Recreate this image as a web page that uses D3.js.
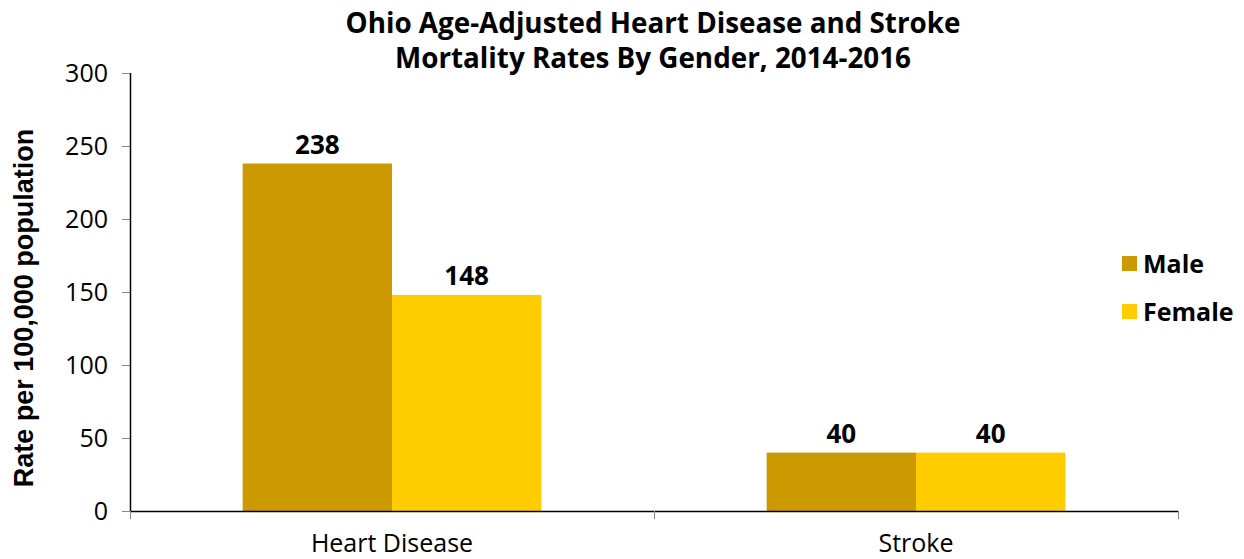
<!DOCTYPE html>
<html><head><meta charset="utf-8">
<script src="https://cdn.jsdelivr.net/npm/d3@7"></script>
<style>body{margin:0;background:#fff;}svg{display:block;font-family:"Open Sans","Noto Sans",sans-serif;}</style>
</head><body><svg id="c" width="1244" height="559"></svg>
<script>
const categories = ["Heart Disease", "Stroke"];
const seriesNames = ["Male", "Female"];
const maleValues = [238, 40];
const femaleValues = [148, 40];
const yTicks = [0, 50, 100, 150, 200, 250, 300];
const titleLines = ["Ohio Age-Adjusted Heart Disease and Stroke", "Mortality Rates By Gender, 2014-2016"];
const yLabel = "Rate per 100,000 population";
const colors = ["#CC9900", "#FFCC00"];

(function () {
const svg = d3.select("#c");
const pLeft = 130, pRight = 1178, pTop = 73, pBottom = 511;
const x = d3.scaleBand().domain(categories).range([pLeft, pRight]).paddingInner(0.43).paddingOuter(0.215);
const xs = d3.scaleBand().domain(seriesNames).range([0, x.bandwidth()]);
const y = d3.scaleLinear().domain([0, 300]).range([pBottom, pTop]);
const data = [maleValues, femaleValues];

// bars
seriesNames.forEach((s, si) => {
  svg.append("g").selectAll("rect").data(categories).join("rect")
    .attr("x", d => x(d) + xs(s))
    .attr("y", (d, i) => y(data[si][i]))
    .attr("width", xs.bandwidth())
    .attr("height", (d, i) => y(0) - y(data[si][i]))
    .attr("fill", colors[si]);
  svg.append("g").selectAll("text").data(categories).join("text")
    .attr("x", d => x(d) + xs(s) + xs.bandwidth() / 2)
    .attr("y", (d, i) => y(data[si][i]) - 10)
    .attr("text-anchor", "middle")
    .attr("font-weight", "bold").attr("font-size", 26)
    .attr("fill", "#000")
    .text((d, i) => data[si][i]);
});

// y axis
const ya = svg.append("g").attr("transform", `translate(${pLeft},0)`)
  .call(d3.axisLeft(y).tickValues(yTicks).tickSize(8).tickPadding(14));
ya.select(".domain").remove();
ya.selectAll(".tick line").attr("stroke", "#888");
ya.selectAll(".tick text").attr("font-size", 25).attr("fill", "#000").attr("font-family", "Open Sans");
svg.append("line").attr("x1", pLeft + 0.5).attr("x2", pLeft + 0.5).attr("y1", pTop).attr("y2", pBottom).attr("stroke", "#000").attr("stroke-width", 1.5);

// x axis
const xTickPos = [pLeft, (pLeft + pRight) / 2, pRight];
svg.append("line").attr("x1", pLeft).attr("x2", pRight).attr("y1", pBottom + 0.5).attr("y2", pBottom + 0.5).attr("stroke", "#000").attr("stroke-width", 1.5);
svg.append("g").selectAll("line").data(xTickPos).join("line")
  .attr("x1", d => d + 0.5).attr("x2", d => d + 0.5).attr("y1", pBottom).attr("y2", pBottom + 8).attr("stroke", "#888");
svg.append("g").selectAll("text").data(categories).join("text")
  .attr("x", d => x(d) + x.bandwidth() / 2)
  .attr("y", 552)
  .attr("text-anchor", "middle").attr("font-size", 25).attr("fill", "#000")
  .text(d => d);

// title
svg.append("g").selectAll("text").data(titleLines).join("text")
  .attr("x", 653).attr("y", (d, i) => 33 + i * 35)
  .attr("text-anchor", "middle").attr("font-weight", "bold").attr("font-size", 27.8).attr("fill", "#000")
  .text(d => d);

// y label
svg.append("text").attr("transform", "translate(33,308) rotate(-90)")
  .attr("text-anchor", "middle").attr("font-weight", "bold").attr("font-size", 27)
  .attr("font-family", "Liberation Sans, Arial, sans-serif").attr("fill", "#000")
  .text(yLabel);

// legend
const lg = svg.append("g").selectAll("g").data(seriesNames).join("g")
  .attr("transform", (d, i) => `translate(1122,${256 + i * 48})`);
lg.append("rect").attr("width", 15).attr("height", 15).attr("fill", (d, i) => colors[i]);
lg.append("text").attr("x", 21).attr("y", 17).attr("font-weight", "bold").attr("font-size", 25).attr("fill", "#000").text(d => d);
})();
</script></body></html>
